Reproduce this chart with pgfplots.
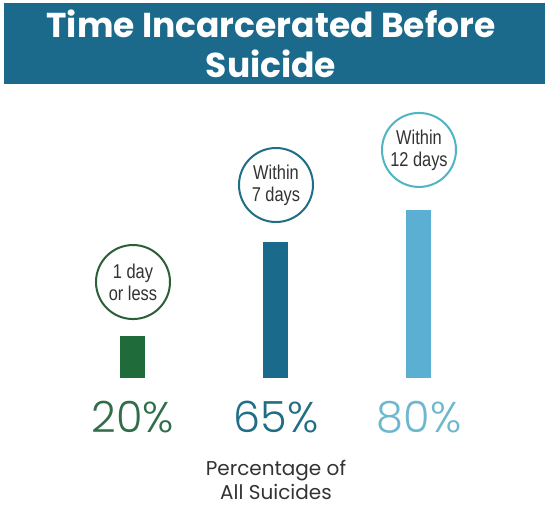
\documentclass[border=0pt]{standalone}
\usepackage{fontspec}
\setmainfont{Poppins}
\newfontfamily\poplight{Poppins Light}
\newfontfamily\cond{Liberation Sans}[FakeStretch=0.82]
\usepackage{pgfplots}
\pgfplotsset{compat=1.18}

\definecolor{titleblue}{HTML}{1B6A8C}
\definecolor{cgreen}{HTML}{1F6B3A}
\definecolor{cblue}{HTML}{1A6A8B}
\definecolor{clight}{HTML}{5AAFD2}
\definecolor{tgreen}{HTML}{2F6E48}
\definecolor{tblue}{HTML}{1F6E86}
\definecolor{tlight}{HTML}{6DB8CE}
\definecolor{ogreen}{HTML}{2A5F3A}
\definecolor{oblue}{HTML}{1E6E86}
\definecolor{olight}{HTML}{4FB4C4}
\definecolor{txtgray}{HTML}{333333}

\begin{document}
\begin{tikzpicture}[x=1pt,y=1pt,
    circ/.style={circle, line width=2pt, minimum size=74pt, inner sep=0pt,
        align=center, text=txtgray, font=\cond\fontsize{20}{22}\selectfont},
    pct/.style={font=\poplight\fontsize{43}{48}\selectfont}]
\useasboundingbox (0,0) rectangle (545,508);
\fill[white] (0,0) rectangle (545,508);
\fill[titleblue] (4,424) rectangle (545,505);
\node[white, font=\fontsize{34.5}{40}\selectfont\bfseries, align=center] at (271,464) {Time Incarcerated Before\\Suicide};

\begin{axis}[
    at={(0,0)}, anchor=south west,
    scale only axis,
    x=143pt, y=2.1pt,
    xmin=-0.93, xmax=2.88,
    ymin=-61.9, ymax=180,
    hide axis, clip=false,
    ybar, bar width=25pt, bar shift=0pt
]
    \addplot[fill=cgreen, draw=none] coordinates {(0,20)};
    \addplot[fill=cblue, draw=none] coordinates {(1,65)};
    \addplot[fill=clight, draw=none] coordinates {(2,80)};

    \node[circ, draw=ogreen] at (axis cs:0,45.7) {1 day\\or less};
    \node[circ, draw=oblue] at (axis cs:1,91.9) {Within\\7 days};
    \node[circ, draw=olight] at (axis cs:2,108.6) {Within\\12 days};

    \node[pct, text=tgreen] at (axis cs:0,-18.6) {20\%};
    \node[pct, text=tblue] at (axis cs:1,-18.6) {65\%};
    \node[pct, text=tlight] at (axis cs:2,-18.6) {80\%};

    \node[align=center, text=txtgray, font=\fontsize{20}{24}\selectfont] at (axis cs:1,-48.6) {Percentage of\\All Suicides};
\end{axis}
\end{tikzpicture}
\end{document}
